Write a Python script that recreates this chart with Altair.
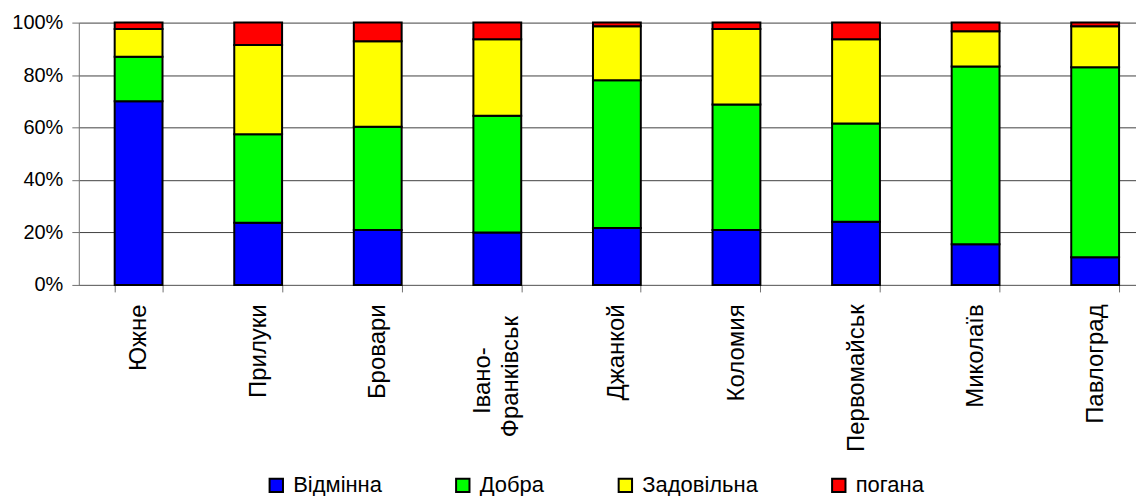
import altair as alt
import pandas as pd

cities = ["Южне", "Прилуки", "Бровари", "Івано-Франківськ", "Джанкой",
          "Коломия", "Первомайськ", "Миколаїв", "Павлоград"]
series = ["Відмінна", "Добра", "Задовільна", "погана"]
colors = ["#0000FF", "#00FF00", "#FFFF00", "#FF0000"]

vidminna = [70.0, 23.7, 20.9, 20.0, 21.7, 20.9, 24.1, 15.5, 10.5]
dobra = [17.0, 33.7, 39.4, 44.5, 56.3, 47.9, 37.4, 67.8, 72.5]
zadovilna = [10.6, 34.1, 32.6, 29.2, 20.6, 28.8, 32.2, 13.4, 15.6]
pohana = [2.4, 8.5, 7.1, 6.3, 1.4, 2.4, 6.3, 3.3, 1.4]

# the two-line tick label of the 4th category
wrapped_city = "Івано-Франківськ"
wrapped_lines = ["Івано-", "Франківськ"]

rows = []
for s_i, (name, vals) in enumerate(zip(series, [vidminna, dobra, zadovilna, pohana])):
    for city, v in zip(cities, vals):
        rows.append({"city": city, "series": name, "value": v, "order": s_i})
df = pd.DataFrame(rows)

FONT = "Liberation Sans"
XFS = 24
label_expr = f"datum.label == '{wrapped_city}' ? '' : datum.label"

x_enc = alt.X("city:N", sort=cities, title=None,
              scale=alt.Scale(range=[0, 1079], paddingInner=0.6, paddingOuter=0.3),
              axis=alt.Axis(labelAngle=270, labelFontSize=XFS, labelFont=FONT,
                            labelColor="black", labelPadding=12, tickSize=7,
                            tickColor="#707070", domainColor="#707070",
                            tickBand="extent", labelExpr=label_expr,
                            grid=False, labelLimit=300))

bars = alt.Chart(df).mark_bar(stroke="black", strokeWidth=2).encode(
    x=x_enc,
    y=alt.Y("value:Q", stack="normalize", title=None,
            scale=alt.Scale(domain=[0, 1]),
            axis=alt.Axis(values=[0, 0.2, 0.4, 0.6, 0.8, 1.0], format=".0%",
                          labelFontSize=20, labelFont=FONT, labelColor="black",
                          labelPadding=9, tickSize=7, tickColor="#707070",
                          domainColor="#707070", grid=True, gridColor="#404040",
                          gridWidth=1)),
    color=alt.Color("series:N", sort=series,
                    scale=alt.Scale(domain=series, range=colors),
                    legend=alt.Legend(title=None, orient="none", direction="horizontal",
                                      legendX=187, legendY=453, symbolType="square",
                                      symbolSize=180, symbolStrokeColor="black",
                                      symbolStrokeWidth=2, symbolOpacity=1,
                                      labelFontSize=22, labelFont=FONT,
                                      labelColor="black", labelOffset=6,
                                      columnPadding=70, padding=0)),
    order=alt.Order("order:Q", sort="ascending"),
)

line1 = alt.Chart(pd.DataFrame({"city": [wrapped_city], "t": [wrapped_lines[0]]})).mark_text(
    angle=270, align="center", baseline="middle", fontSize=XFS, font=FONT,
    color="black", dy=-14
).encode(x=x_enc, y=alt.value(359), text="t:N")

line2 = alt.Chart(pd.DataFrame({"city": [wrapped_city], "t": [wrapped_lines[1]]})).mark_text(
    angle=270, align="center", baseline="middle", fontSize=XFS, font=FONT,
    color="black", dy=14
).encode(x=x_enc, y=alt.value(355), text="t:N")

chart = alt.layer(bars, line1, line2).properties(
    width=1060, height=263,
    autosize=alt.AutoSizeParams(type="none"),
    padding={"left": 71, "top": 14, "right": 0, "bottom": 211},
).configure_view(stroke=None)

chart.save("out.html", embed_options={"renderer": "svg", "actions": False})
